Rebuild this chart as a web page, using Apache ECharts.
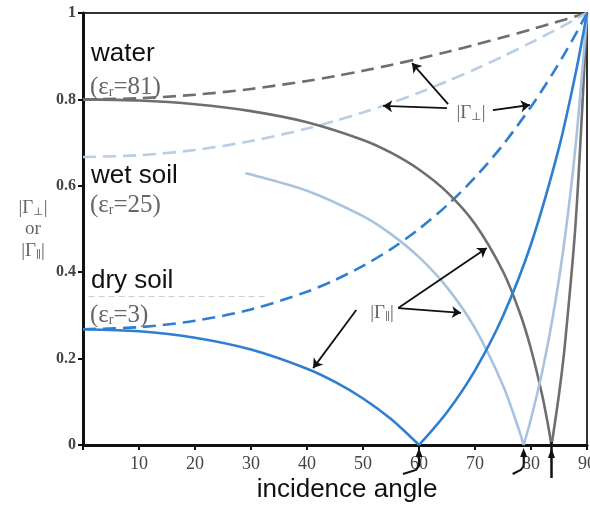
<!DOCTYPE html>
<html><head><meta charset="utf-8">
<script src="https://cdn.jsdelivr.net/npm/echarts/dist/echarts.min.js"></script>
<style>html,body{margin:0;padding:0;background:#fff}#c{width:590px;height:511px}</style>
</head><body><div id="c"></div>
<script>
// incidence angles (degrees) for the perpendicular curves
const perpAngles = [0,10,20,30,40,45,50,55,60,65,70,75,80,82,84,86,88,90];
const waterPerp = [0.8,0.8027,0.8108,0.8242,0.8428,0.8539,0.8662,0.8797,0.8943,0.9099,0.9264,0.9438,0.9619,0.9694,0.9769,0.9845,0.9922,1];
const wetPerp   = [0.6667,0.6707,0.683,0.7035,0.7324,0.75,0.7698,0.7917,0.8156,0.8417,0.8698,0.8998,0.9316,0.9448,0.9582,0.9719,0.9859,1];
const dryPerp   = [0.268,0.2727,0.2875,0.3139,0.3548,0.382,0.4147,0.4536,0.5,0.5548,0.6194,0.6949,0.7828,0.8216,0.8627,0.906,0.9518,1];
// parallel curves
const waterParAngles = [0,10,20,30,40,50,55,60,65,70,75,78,80,82,83,83.66,84,85,86,88,90];
const waterPar       = [0.8,0.7973,0.7887,0.7729,0.7472,0.7062,0.6766,0.6377,0.5853,0.5116,0.4017,0.3061,0.2223,0.1152,0.0494,0,0.0276,0.1175,0.2254,0.5197,1];
const wetParAngles = [29,30,40,50,55,60,65,70,75,78,78.69,80,82,84,86,88,90];
const wetPar       = [0.629,0.6263,0.5887,0.5297,0.4881,0.4348,0.3648,0.2703,0.1375,0.0291,0,0.0608,0.1696,0.3045,0.4748,0.6977,1];
const dryParAngles = [0,10,20,30,40,45,50,55,60,65,70,75,80,85,88,90];
const dryPar       = [0.268,0.2632,0.2482,0.2208,0.1765,0.1459,0.1077,0.06,0,0.0759,0.1729,0.2987,0.4647,0.6883,0.8622,1];
const brewsterAngles = [60, 78.69, 83.66];

const C_WATER = '#6e6e6e', C_WET = '#a9c3df', C_WET_D = '#b9cde4', C_DRY = '#2f7fd1';

function pts(xs, ys){ return xs.map((x,i)=>[x, ys[i]]); }
function branches(xs, ys){ const p = pts(xs, ys); const iz = ys.indexOf(0); return [p.slice(0, iz+1), p.slice(iz)]; }

const series = [];
function addLine(data, color, dashed){
  series.push({type:'line', data, showSymbol:false, smooth:0.3,
    lineStyle:{color, width:2.6, type: dashed ? [13,7] : 'solid', join:'round'}, silent:true, animation:false, z:3});
}
addLine(pts(perpAngles, waterPerp), C_WATER, true);
addLine(pts(perpAngles, wetPerp), C_WET_D, true);
addLine(pts(perpAngles, dryPerp), C_DRY, true);
branches(waterParAngles, waterPar).forEach(b=>addLine(b, C_WATER, false));
branches(wetParAngles, wetPar).forEach(b=>addLine(b, C_WET, false));
branches(dryParAngles, dryPar).forEach(b=>addLine(b, C_DRY, false));

// annotation arrows (data coordinates)
const arrows = [
  [[65.2,0.789],[58.75,0.884]],
  [[65.0,0.780],[53.6,0.785]],
  [[73.2,0.775],[79.8,0.787]],
  [[56.3,0.317],[72.1,0.456]],
  [[56.3,0.317],[67.5,0.306]],
  [[48.8,0.3125],[41.1,0.178]]
];
series.push({type:'line', data:[], silent:true, animation:false, z:5,
  markLine:{silent:true, animation:false, symbol:['none','arrow'], symbolSize:9,
    label:{show:false}, lineStyle:{color:'#111', width:1.8, type:'solid'},
    data: arrows.map(a=>[{coord:a[0]},{coord:a[1]}])}});
series.push({type:'line', data:[], silent:true, animation:false, z:1,
  markLine:{silent:true, animation:false, symbol:['none','none'],
    label:{show:false}, lineStyle:{color:'#cfcfcf', width:1, type:[6,4]},
    data: [[{coord:[1,0.345]},{coord:[33,0.345]}]]}});

const chart = echarts.init(document.getElementById('c'), null, {renderer:'canvas'});
const serif = '"Liberation Serif","DejaVu Serif",serif';
const sans = '"Liberation Sans",Arial,sans-serif';
chart.setOption({
  animation:false,
  grid:{left:83, top:13, right:3, bottom:66, show:true, borderColor:'#333', borderWidth:2, containLabel:false, outerBoundsMode:'none'},
  xAxis:{type:'value', min:0, max:90, interval:10,
    axisLine:{lineStyle:{color:'#111', width:3}},
    axisTick:{show:true, length:5, lineStyle:{color:'#111', width:2}},
    splitLine:{show:false},
    axisLabel:{formatter:v=> v===0 ? '' : String(v), fontFamily:serif, fontSize:18, color:'#444', margin:10}},
  yAxis:{type:'value', min:0, max:1, interval:0.2,
    axisLine:{show:true, lineStyle:{color:'#111', width:3}},
    axisTick:{show:true, length:5, lineStyle:{color:'#111', width:2}},
    splitLine:{show:false},
    axisLabel:{fontFamily:serif, fontSize:16, fontWeight:'bold', color:'#444', margin:7}},
  series
});

function px(x,y){ return chart.convertToPixel({gridIndex:0},[x,y]); }
const g = [];
function txt(x,y,text,font,size,color,align){
  g.push({type:'text', x, y, z:10, style:{text, font: size+'px '+font, fill:color, align:align||'left', verticalAlign:'middle'}});
}
const subRich = {s:{fontFamily:serif, fontSize:14, fill:'#666', padding:[10,0,0,0]}, n:{fontFamily:serif, fontSize:25, fill:'#666'}};
txt(91,54,'water',sans,26,'#111');
g.push({type:'text', x:90, y:87, z:10, style:{text:'{n|(ε}{s|r}{n|=81)}', rich:subRich, verticalAlign:'middle'}});
txt(91,176,'wet soil',sans,26,'#111');
g.push({type:'text', x:90, y:205, z:10, style:{text:'{n|(ε}{s|r}{n|=25)}', rich:subRich, verticalAlign:'middle'}});
txt(91,281,'dry soil',sans,26,'#111');
g.push({type:'text', x:90, y:315, z:10, style:{text:'{n|(ε}{s|r}{n|=3)}', rich:subRich, verticalAlign:'middle'}});
const gRich = {n:{fontFamily:serif, fontSize:19, fill:'#666'}, s:{fontFamily:serif, fontSize:11, fill:'#666', padding:[8,0,0,0]}};
g.push({type:'text', x:471, y:113, z:10, style:{text:'{n||Γ}{s|⊥}{n||}', rich:gRich, align:'center', verticalAlign:'middle'}});
g.push({type:'text', x:382, y:313, z:10, style:{text:'{n||Γ}{s|∥}{n||}', rich:gRich, align:'center', verticalAlign:'middle'}});
g.push({type:'text', x:33, y:208, z:10, style:{text:'{n||Γ}{s|⊥}{n||}', rich:gRich, align:'center', verticalAlign:'middle'}});
txt(33,229,'or',serif,19,'#666','center');
g.push({type:'text', x:33, y:251, z:10, style:{text:'{n||Γ}{s|∥}{n||}', rich:gRich, align:'center', verticalAlign:'middle'}});
g.push({type:'text', x:347, y:490, z:10, style:{text:'incidence angle', font:'26px '+sans, fill:'#111', align:'center', verticalAlign:'middle'}});

// arrows marking the Brewster angles below the axis
brewsterAngles.forEach((a,i)=>{
  const p = px(a,0); const x = p[0], y0 = p[1];
  if(i<2){
    const hook = i===0 ? 16 : 11;
    g.push({type:'polyline', z:10, shape:{points:[[x,y0+8],[x,y0+21],[x-3,y0+25],[x-hook,y0+29]]}, style:{stroke:'#111', lineWidth:2, fill:null}});
    g.push({type:'polygon', z:10, shape:{points:[[x,y0+3],[x-3.5,y0+12],[x+3.5,y0+12]]}, style:{fill:'#111'}});
  } else {
    g.push({type:'line', z:10, shape:{x1:x, y1:y0-3, x2:x, y2:y0+33}, style:{stroke:'#111', lineWidth:2.5}});
    g.push({type:'polygon', z:10, shape:{points:[[x,y0+3],[x-3.5,y0+13],[x+3.5,y0+13]]}, style:{fill:'#111'}});
  }
});
chart.setOption({graphic:g});
</script></body></html>
